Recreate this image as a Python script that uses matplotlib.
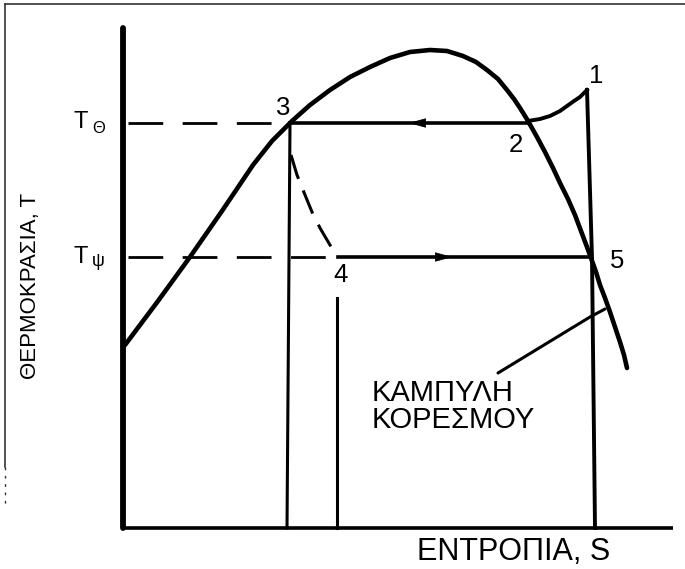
import matplotlib.pyplot as plt

plt.rcParams['font.family'] = ['Liberation Sans', 'DejaVu Sans']
plt.rcParams['lines.scale_dashes'] = False

# Saturation curve (dome): entropy s and temperature T in drawing units
dome_s = [125, 158, 190, 222, 253, 272, 292, 310, 330, 350, 370, 390, 410, 430,
          447, 463, 476, 487, 498, 507, 514, 520, 525, 528, 537, 545, 553, 560,
          568, 575, 581, 587, 591, 596, 600, 605, 610, 615, 620, 624, 627]
dome_T = [224, 268, 312, 358, 404, 428, 448, 464, 479, 492, 502, 511, 517, 519,
          518, 513, 507, 499, 490, 479, 470, 461, 453, 448, 432, 417, 401, 386,
          370, 354, 338, 322, 311, 297, 284, 271, 257, 242, 227, 214, 201]

# Cycle levels
T_hot = 446   # T theta
T_cold = 312  # T psi
s_axis_T = 41

# Cycle points
s3, s2, s4, s5 = 290, 528, 338, 591

# Superheated part 2 -> 1
sup_s = [528, 540, 550, 560, 567, 574, 580, 587]
sup_T = [448, 450, 453, 458, 463, 468, 472, 479]

# Isentropic line 1 -> 5 -> axis
vert_s = [587, 592, 595]
vert_T = [479, 311, 41]

# Throttling (dashed) 3 -> 4
thr_s = [291, 297, 303, 312, 320, 330, 338]
thr_T = [414, 394, 379, 357, 341, 324, 312]

# Pointer to the saturation-curve label
ptr_s = [498, 590, 605]
ptr_T = [196, 252, 260]

fig = plt.figure(figsize=(6.85, 5.69), dpi=100)
ax = fig.add_axes([0, 0, 1, 1])
ax.set_xlim(0, 685)
ax.set_ylim(0, 569)
ax.axis('off')

k = 'black'

# picture frame (scan border)
ax.plot([5, 685], [565, 565], color='#333333', lw=1.2)
ax.plot([5, 5], [565, 102], color='#333333', lw=1.2)
ax.plot([5, 5], [102, 64], color='#333333', lw=1.0, ls=(0, (2, 4)))

# axes of the diagram
ax.plot([123, 123], [541, s_axis_T], color=k, lw=4.2, solid_capstyle='round')
ax.plot([123, 673], [s_axis_T, s_axis_T], color=k, lw=2.6, solid_capstyle='butt')

# dome
ax.plot(dome_s, dome_T, color=k, lw=3.3, solid_capstyle='round', solid_joinstyle='round')

# dashed level lines
ax.plot([128, s3], [T_hot, T_hot], color=k, lw=2.0, dashes=(25, 14))
ax.plot([128, s4], [T_cold, T_cold], color=k, lw=2.0, dashes=(25, 14))

# condensation 2 -> 3 and evaporation 4 -> 5
ax.plot([s3, s2], [T_hot, T_hot], color=k, lw=2.6)
ax.plot([s4, s5], [T_cold, T_cold], color=k, lw=2.6)

# superheat and compression
ax.plot(sup_s, sup_T, color=k, lw=2.8, solid_joinstyle='round')
ax.plot(vert_s, vert_T, color=k, lw=2.8, solid_joinstyle='miter')

# throttling
ax.plot(thr_s, thr_T, color=k, lw=2.2, dashes=(18, 9))

# vertical lines down from 3 and 4
ax.plot([s3, 287], [T_hot, s_axis_T], color=k, lw=2.2)
ax.plot([337, 337], [271, s_axis_T], color=k, lw=2.2)

# direction arrows
ax.annotate('', xy=(406, T_hot), xytext=(424, T_hot),
            arrowprops=dict(arrowstyle='-|>,head_length=0.8,head_width=0.22',
                            mutation_scale=14, color=k, lw=0.5))
ax.annotate('', xy=(455, T_cold), xytext=(437, T_cold),
            arrowprops=dict(arrowstyle='-|>,head_length=0.8,head_width=0.22',
                            mutation_scale=14, color=k, lw=0.5))

# pointer
ax.plot(ptr_s, ptr_T, color=k, lw=2.2, solid_capstyle='round')

# point numbers
nums = ['1', '2', '3', '4', '5']
num_s = [596, 516, 283, 341, 617]
num_T = [486, 417, 454, 287, 301]
for n, x, y in zip(nums, num_s, num_T):
    ax.text(x, y, n, fontsize=18.5, ha='center', va='baseline')

# temperature level labels
ax.text(81, 441, 'T', fontsize=17, ha='center', va='baseline')
ax.text(99, 436, 'Θ', fontsize=12, ha='center', va='baseline')
ax.text(81, 306, 'T', fontsize=17, ha='center', va='baseline')
ax.text(98, 308, 'ψ', fontsize=13, ha='center', va='center')

# curve label (two lines in one text)
ax.text(372, 141, 'ΚΑΜΠΥΛΗ\nΚΟΡΕΣΜΟΥ', fontsize=21, ha='left', va='baseline',
        linespacing=0.95)

# axis titles
ax.text(417, 9, 'ΕΝΤΡΟΠΙΑ, S', fontsize=22, ha='left', va='baseline')
ax.text(31, 283, 'ΘΕΡΜΟΚΡΑΣΙΑ, Τ', fontsize=16, rotation=90,
        ha='center', va='center')

plt.savefig('out.png', dpi=100)
